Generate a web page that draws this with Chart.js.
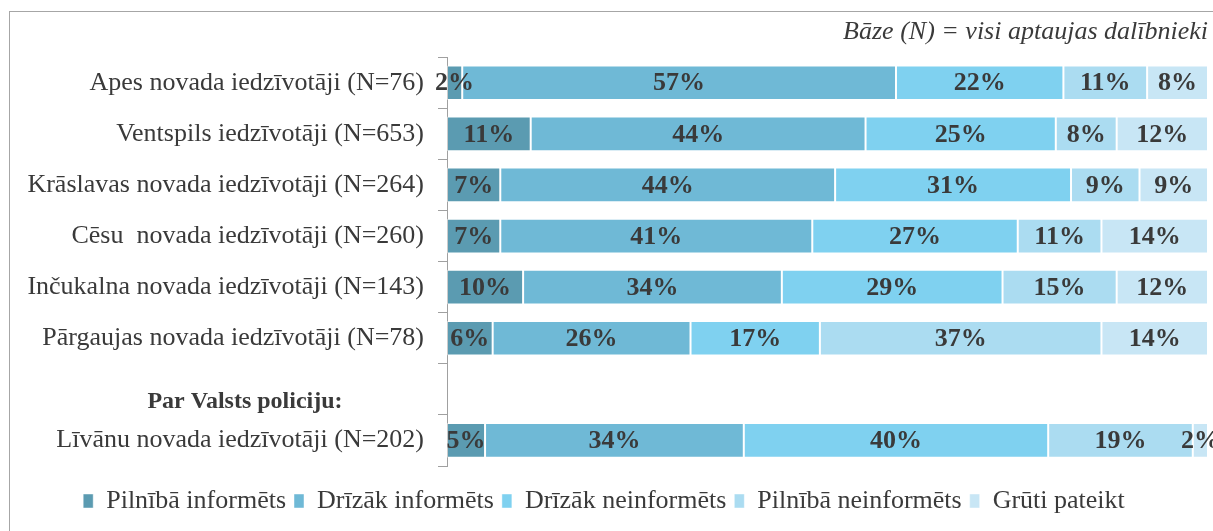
<!DOCTYPE html>
<html>
<head>
<meta charset="utf-8">
<script src="https://cdn.jsdelivr.net/npm/chart.js@4/dist/chart.umd.min.js"></script>
<style>
  body { margin: 0; background: #fff; }
  #wrap { position: relative; width: 1213px; height: 531px; overflow: hidden; }
  #frame { position: absolute; left: 9px; top: 11px; width: 1300px; height: 600px;
           border: 1px solid #a6a6a6; pointer-events: none; }
</style>
</head>
<body>
<div id="wrap">
  <div id="frame"></div>
  <canvas id="myChart" width="1213" height="531"></canvas>
</div>
<script>
var labels = [
  "Apes novada iedzīvotāji (N=76)",
  "Ventspils iedzīvotāji (N=653)",
  "Krāslavas novada iedzīvotāji (N=264)",
  "Cēsu  novada iedzīvotāji (N=260)",
  "Inčukalna novada iedzīvotāji (N=143)",
  "Pārgaujas novada iedzīvotāji (N=78)",
  "",
  "Līvānu novada iedzīvotāji (N=202)"
];
var groupNote = "Par Valsts policiju:";
var seriesNames = ["Pilnībā informēts", "Drīzāk informēts", "Drīzāk neinformēts", "Pilnībā neinformēts", "Grūti pateikt"];

var pilnibaInf   = [2, 11, 7, 7, 10, 6, null, 5];
var drizakInf    = [57, 44, 44, 41, 34, 26, null, 34];
var drizakNeinf  = [22, 25, 31, 27, 29, 17, null, 40];
var pilnibaNeinf = [11, 8, 9, 11, 15, 37, null, 19];
var gruti        = [8, 12, 9, 14, 12, 14, null, 2];

var colors = ['#5b9bb1', '#6fb9d6', '#7fd1f0', '#abdcf1', '#c8e6f5'];
var values = [pilnibaInf, drizakInf, drizakNeinf, pilnibaNeinf, gruti];

var serif = "'Liberation Serif', 'Times New Roman', serif";

// percent labels in the middle of each segment + the bold group note
var valueLabels = {
  id: 'valueLabels',
  afterDatasetsDraw: function(chart) {
    var ctx = chart.ctx;
    ctx.save();
    ctx.font = "bold 26px " + serif;
    ctx.fillStyle = '#3a3a3a';
    ctx.textAlign = 'center';
    ctx.textBaseline = 'middle';
    chart.data.datasets.forEach(function(ds, i) {
      chart.getDatasetMeta(i).data.forEach(function(bar, j) {
        var v = ds.data[j];
        if (v == null) return;
        var p = bar.getCenterPoint();
        ctx.fillText(v + '%', p.x, p.y + 1);
      });
    });
    // note above the last row
    var y = chart.scales.y.getPixelForValue(6) + 12;
    ctx.font = "bold 24px " + serif;
    ctx.fillText(groupNote, 245, y);
    ctx.restore();
  }
};

var ctx = document.getElementById("myChart");
var myChart = new Chart(ctx, {
  type: 'bar',
  data: {
    labels: labels,
    datasets: values.map(function(d, i) {
      return {
        label: seriesNames[i],
        data: d,
        backgroundColor: colors[i],
        borderColor: 'rgba(255,255,255,0.45)',
        borderWidth: 1,
        borderSkipped: false,
        categoryPercentage: 1,
        barPercentage: 0.68
      };
    })
  },
  options: {
    indexAxis: 'y',
    responsive: false,
    animation: false,
    layout: { padding: { left: 0, right: 5, top: 0, bottom: 7 } },
    scales: {
      x: {
        stacked: true, min: 0, max: 100,
        ticks: { display: false },
        grid: { display: false },
        border: { display: false },
        afterFit: function(scale) { scale.height = 14; }
      },
      y: {
        stacked: true,
        border: { color: '#a0a0a0', width: 1 },
        grid: { drawOnChartArea: false, color: '#a0a0a0', tickLength: 9, offset: true },
        ticks: {
          autoSkip: false,
          padding: 14,
          color: '#3a3a3a',
          font: { family: serif, size: 26, lineHeight: 1.0 }
        },
        afterFit: function(scale) { scale.width = 447; }
      }
    },
    plugins: {
      title: {
        display: true,
        text: 'Bāze (N) = visi aptaujas dalībnieki',
        align: 'end',
        color: '#3a3a3a',
        font: { family: serif, size: 26, style: 'italic', weight: 'normal', lineHeight: 1.2 },
        padding: { top: 17, bottom: 9 }
      },
      legend: {
        position: 'bottom',
        labels: {
          color: '#3a3a3a',
          font: { family: serif, size: 26 },
          boxWidth: 10,
          boxHeight: 14,
          padding: 8
        }
      },
      tooltip: { enabled: false }
    }
  },
  plugins: [valueLabels]
});
</script>
</body>
</html>
